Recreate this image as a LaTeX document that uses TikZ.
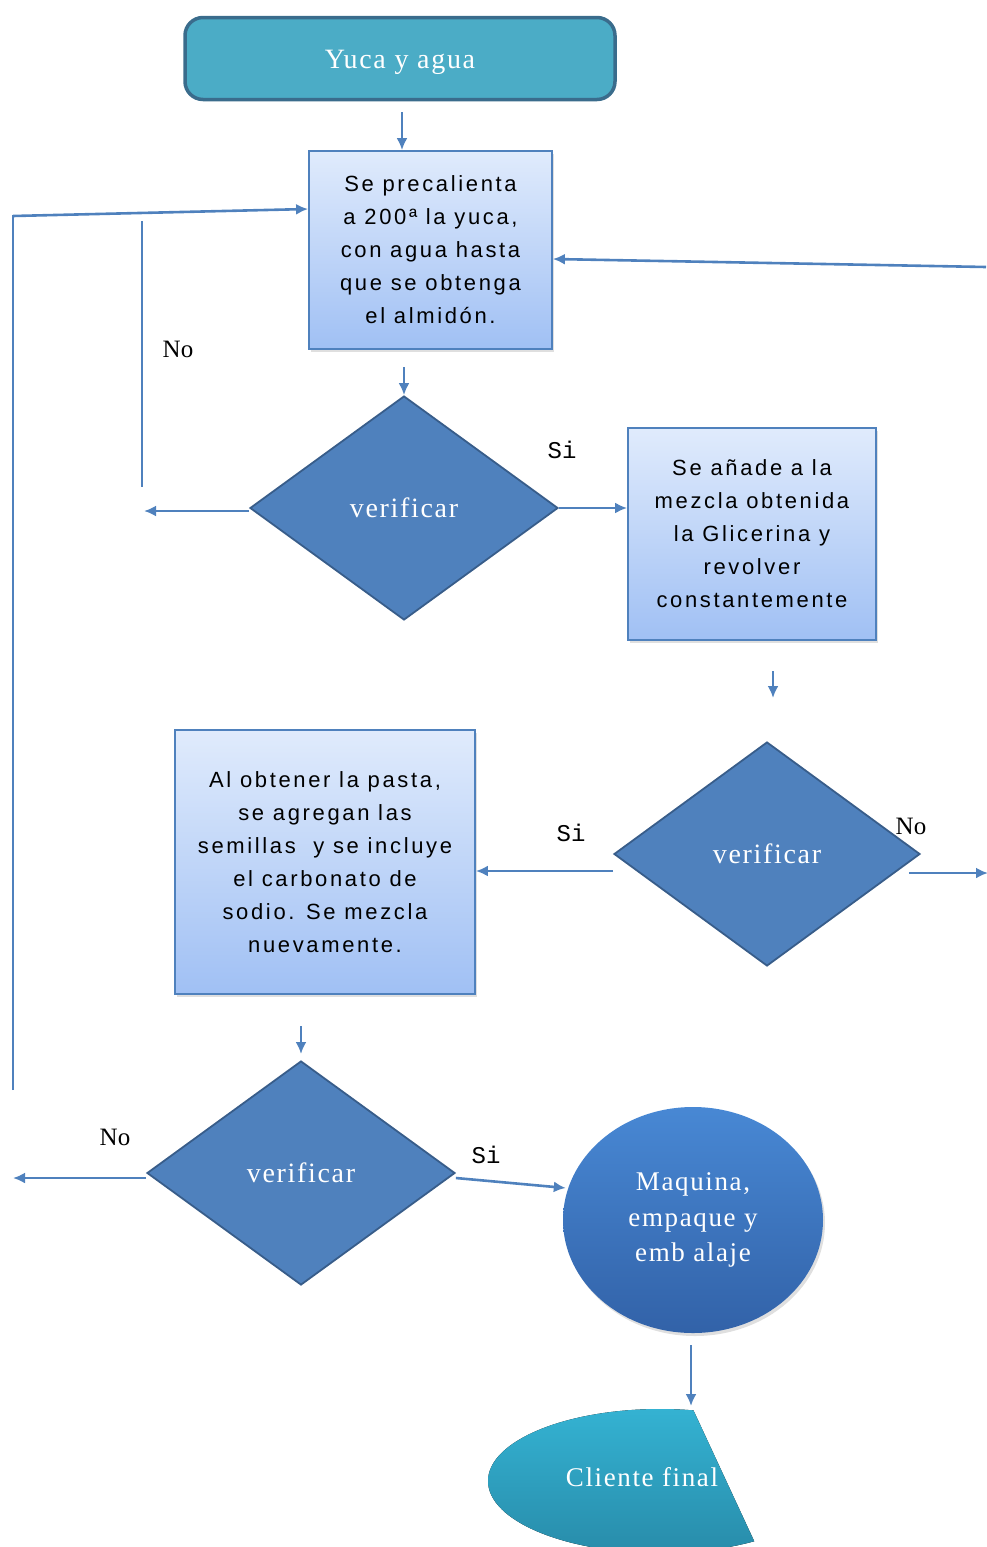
\documentclass[tikz,border=0pt]{standalone}
\usepackage{fontspec}
\setmainfont{Liberation Serif}
\newfontfamily\boxfont[LetterSpace=12]{Liberation Sans}
\newfontfamily\wserif[LetterSpace=6]{Liberation Serif}
\newfontfamily\lblmono{Liberation Mono}
\usetikzlibrary{shapes.geometric,arrows.meta,shadows,calc}
\definecolor{lineblue}{RGB}{79,129,189}
\definecolor{dborder}{RGB}{56,93,138}
\definecolor{teal1}{RGB}{75,172,198}
\definecolor{tealborder}{RGB}{58,108,140}
\definecolor{boxtop}{RGB}{224,235,252}
\definecolor{boxbot}{RGB}{160,192,244}
\definecolor{circtop}{RGB}{72,136,212}
\definecolor{circbot}{RGB}{50,98,168}
\definecolor{cltop}{RGB}{52,178,210}
\definecolor{clbot}{RGB}{40,140,170}
\begin{document}
\begin{tikzpicture}[x=1pt,y=-1pt,
 conn/.style={draw=lineblue,line width=2.6pt},
 arr/.style={conn,-{Latex[length=12pt,width=11pt]}},
 procbox/.style={draw=lineblue,line width=1.8pt,top color=boxtop,bottom color=boxbot,
   align=center,inner sep=0pt,font=\boxfont\fontsize{22}{33}\selectfont,
   drop shadow={opacity=0.25,shadow xshift=2pt,shadow yshift=-3pt}},
 dec/.style={diamond,draw=dborder,line width=1.8pt,fill=lineblue,inner sep=0pt,
   text=white,font=\wserif\fontsize{28}{30}\selectfont},
 silbl/.style={font=\lblmono\fontsize{24}{26}\selectfont,text=black},
 nolbl/.style={font=\fontsize{25}{27}\selectfont,text=black},
 whitetxt/.style={text=white,align=center,font=\wserif\fontsize{27}{35.5}\selectfont}
]
\useasboundingbox (0,0) rectangle (986,1547);

% start
\node[draw=tealborder,line width=3.5pt,fill=teal1,rounded corners=18pt,
  minimum width=430pt,minimum height=82pt] (yuca) at (400,58.5) {};
\node[text=white,font=\wserif\fontsize{28}{30}\selectfont] (yucat) at (400,62) {Yuca y agua};

% process boxes
\node[procbox,minimum width=243pt,minimum height=198pt] (b1) at (430.5,250)
  {Se precalienta\\a 200ª la yuca,\\con agua hasta\\que se obtenga\\el almidón.};
\node[procbox,minimum width=248pt,minimum height=212pt] (b2) at (752,534)
  {Se añade a la\\mezcla obtenida\\la Glicerina y\\revolver\\constantemente};
\node[procbox,minimum width=300pt,minimum height=264pt] (b3) at (325,862)
  {Al obtener la pasta,\\se agregan las\\semillas\ \ y se incluye\\el carbonato de\\sodio. Se mezcla\\nuevamente.};

% decisions
\node[dec,minimum width=308pt,minimum height=224pt] (d1) at (404,508) {verificar};
\node[dec,minimum width=306pt,minimum height=224pt] (d2) at (767,854) {verificar};
\node[dec,minimum width=308pt,minimum height=224pt] (d3) at (301,1173) {verificar};

% machine ellipse
\node[ellipse,minimum width=260pt,minimum height=226pt,top color=circtop,bottom color=circbot,
  draw=none,drop shadow={opacity=0.25,shadow xshift=2pt,shadow yshift=-3pt},
  whitetxt] (mq) at (693,1220) {Maquina,\\empaque y\\emb alaje};

% cliente final shape
\begin{scope}
  \clip (440,1390) -- (684,1390) -- (762,1558) -- (440,1558) -- cycle;
  \fill[top color=cltop,bottom color=clbot] (660,1481) ellipse [x radius=172pt,y radius=72pt];
\end{scope}
\node[whitetxt] (cl) at (642,1477) {Cliente final};
\coordinate (cltop) at (691,1406);

% free coordinates
\coordinate (a1s) at (402,112);
\coordinate (a2s) at (773,671);
\coordinate (a2e) at (773,698);
\coordinate (a3s) at (301,1026);
\coordinate (a3e) at (301,1054);
\coordinate (n1e) at (144,511);
\coordinate (v2t) at (142,221);
\coordinate (v2b) at (142,487);
\coordinate (l1b) at (13,1090);
\coordinate (l1t) at (13,215);
\coordinate (l1h) at (13,216);
\coordinate (r1s) at (986,267);
\coordinate (r2e) at (988,873);
\coordinate (n3e) at (13,1178);
\coordinate (mqs) at (691,1345);

% connectors
\draw[arr] (a1s) -- (b1.north -| a1s);
\draw[arr] ([yshift=28pt]d1.north) -- (d1.north);
\draw[arr] (d1.east) -- (d1.east -| b2.west);
\draw[arr] (d1.west |- n1e) -- (n1e);
\draw[conn] (v2t) -- (v2b);
\draw[conn] (l1b) -- (l1t);
\draw[arr] (l1h) -- ([yshift=41pt]b1.west);
\draw[arr] (r1s) -- ([yshift=-9pt]b1.east);
\draw[arr] (a2s) -- (a2e);
\draw[arr] ([yshift=-17pt]d2.west) -- ([yshift=-17pt]d2.west -| b3.east);
\draw[arr] ([xshift=-12pt,yshift=-19pt]d2.east) -- (r2e);
\draw[arr] (a3s) -- (a3e);
\draw[arr] ([yshift=-5pt]d3.west) -- (n3e);
\draw[arr] ([yshift=-5pt]d3.east) -- ([xshift=3pt,yshift=32pt]mq.west);
\draw[arr] (mqs) -- (cltop);

% labels
\node[silbl] (si1) at (562,450) {Si};
\node[nolbl] (no1) at (178,349) {No};
\node[silbl] (si2) at (571,833) {Si};
\node[nolbl] (no2) at (911,826) {No};
\node[nolbl] (no3) at (115,1137) {No};
\node[silbl] (si3) at (486,1155) {Si};
\end{tikzpicture}
\end{document}
